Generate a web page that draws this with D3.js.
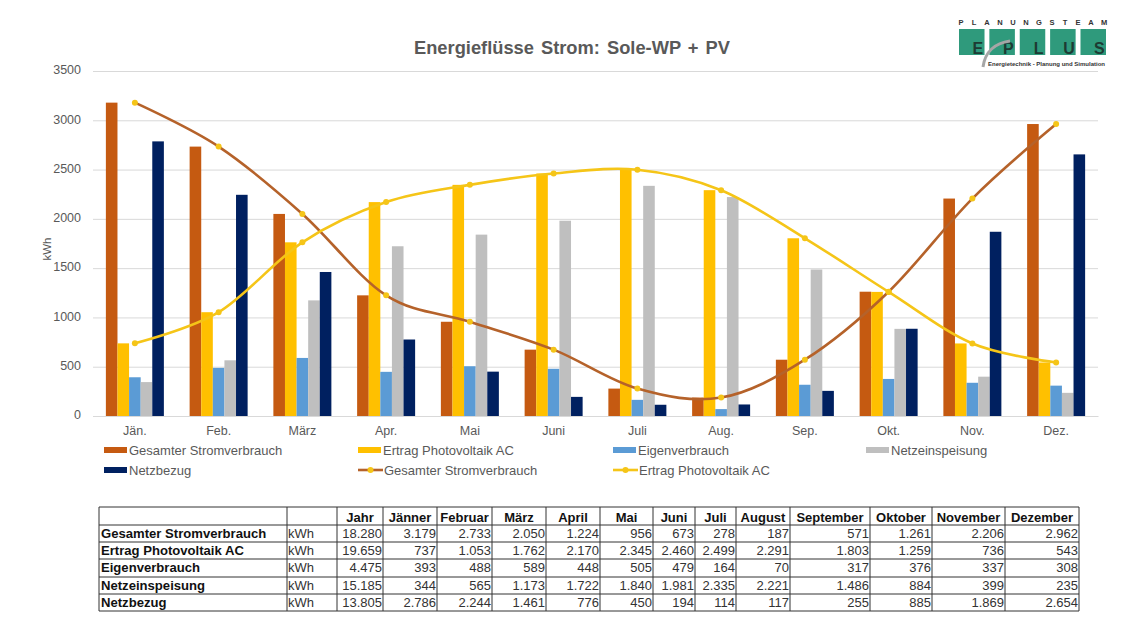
<!DOCTYPE html>
<html>
<head>
<meta charset="utf-8">
<script src="https://cdn.jsdelivr.net/npm/d3@7"></script>
<style>
  html, body { margin: 0; background: #fff; }
  text { font-family: "Liberation Sans", Arial, sans-serif; }
</style>
</head>
<body>
<div id="chart"></div>
<script>
// chart data, one list per series
var months = ["Jän.","Feb.","März","Apr.","Mai","Juni","Juli","Aug.","Sep.","Okt.","Nov.","Dez."];
var verbrauch = [3179,2733,2050,1224,956,673,278,187,571,1261,2206,2962];
var ertrag = [737,1053,1762,2170,2345,2460,2499,2291,1803,1259,736,543];
var eigen = [393,488,589,448,505,479,164,70,317,376,337,308];
var einspeisung = [344,565,1173,1722,1840,1981,2335,2221,1486,884,399,235];
var bezug = [2786,2244,1461,776,450,194,114,117,255,885,1869,2654];

var seriesNames = ["Gesamter Stromverbrauch","Ertrag Photovoltaik AC","Eigenverbrauch","Netzeinspeisung","Netzbezug"];
var seriesColors = ["#C55A11","#FFC000","#5B9BD5","#BFBFBF","#002060"];
var yTicks = [0,500,1000,1500,2000,2500,3000,3500];

// table
var tableHead = ["Jahr","Jänner","Februar","März","April","Mai","Juni","Juli","August","September","Oktober","November","Dezember"];
var yearTotals = [18280,19659,4475,15185,13805];
var tableUnit = "kWh";

// logo
var logoTop = "PLANUNGSTEAM".split("");
var logoLetters = ["E","P","L","U","S"];

var width=1136, height=639;
var svg=d3.select("#chart").append("svg")
  .attr("width",width).attr("height",height)
  .style("display","block");

var x=d3.scaleBand().domain(months).range([93,1098]);
var y=d3.scaleLinear().domain([0,3500]).range([416,71]);
var inner=d3.scaleBand().domain(d3.range(5)).range([0,58]);
var groupOffset=(x.bandwidth()-58)/2;

svg.append("text").text("Energieflüsse Strom: Sole-WP + PV")
  .attr("x",572).attr("y",54).attr("text-anchor","middle")
  .attr("font-size",18.3).attr("font-weight","bold").attr("fill","#595959")
  .attr("word-spacing",2);

// y axis and grid
var yAxis=svg.append("g").attr("transform","translate(93,0)")
  .call(d3.axisLeft(y).tickValues(yTicks).tickSize(-1005).tickPadding(12).tickFormat(d3.format("d")));
yAxis.select(".domain").remove();
yAxis.selectAll("line").attr("stroke","#D9D9D9");
yAxis.selectAll("text").attr("font-size",12.5).attr("fill","#595959").attr("dy","0.22em");

svg.append("text").text("kWh")
  .attr("transform","translate(51,249) rotate(-90)")
  .attr("text-anchor","middle").attr("font-size",11.5).attr("fill","#595959");

// x axis
var xAxis=svg.append("g").attr("transform","translate(0,416)")
  .call(d3.axisBottom(x).tickSize(0).tickPadding(10));
xAxis.select(".domain").attr("stroke","#D9D9D9");
xAxis.selectAll("text").attr("font-size",12.5).attr("fill","#595959");

// bars
var barSeries=[verbrauch,ertrag,eigen,einspeisung,bezug];
svg.append("g").selectAll("g").data(barSeries).join("g")
  .attr("fill",function(d,i) { return seriesColors[i]; })
  .attr("transform",function(d,i) { return "translate("+(groupOffset+inner(i))+",0)"; })
  .selectAll("rect").data(function(d) { return d; }).join("rect")
  .attr("x",function(d,i) { return x(months[i]); })
  .attr("y",function(d) { return y(d); })
  .attr("width",inner.bandwidth())
  .attr("height",function(d) { return y(0)-y(d); });

// smoothed lines, markers are yellow on both
var line=d3.line()
  .x(function(d,i) { return x(months[i])+x.bandwidth()/2; })
  .y(function(d) { return y(d); })
  .curve(d3.curveCardinal.tension(0));

function drawLine(values,color) {
  svg.append("path").datum(values)
    .attr("d",line).attr("fill","none")
    .attr("stroke",color).attr("stroke-width",2.6);
  svg.append("g").selectAll("circle").data(values).join("circle")
    .attr("cx",function(d,i) { return x(months[i])+x.bandwidth()/2; })
    .attr("cy",function(d) { return y(d); })
    .attr("r",3).attr("fill","#F5C518");
}
drawLine(verbrauch,"#B5622A");
drawLine(ertrag,"#F5C518");

// legend
var legendItems=[
  {n:0,type:"bar",lx:104,ly:450},
  {n:1,type:"bar",lx:358,ly:450},
  {n:2,type:"bar",lx:613,ly:450},
  {n:3,type:"bar",lx:866,ly:450},
  {n:4,type:"bar",lx:104,ly:470},
  {n:0,type:"line",lx:358,ly:470,c:"#B5622A"},
  {n:1,type:"line",lx:613,ly:470,c:"#F5C518"}
];
var legend=svg.append("g").selectAll("g").data(legendItems).join("g")
  .attr("transform",function(d) { return "translate("+d.lx+","+d.ly+")"; });
legend.filter(function(d) { return d.type=="bar"; }).append("rect")
  .attr("y",-3).attr("width",23).attr("height",6)
  .attr("fill",function(d) { return seriesColors[d.n]; });
legend.filter(function(d) { return d.type=="line"; }).append("line")
  .attr("x2",25).attr("stroke",function(d) { return d.c; }).attr("stroke-width",2.6);
legend.filter(function(d) { return d.type=="line"; }).append("circle")
  .attr("cx",12.5).attr("r",3).attr("fill","#F5C518");
legend.append("text").text(function(d) { return seriesNames[d.n]; })
  .attr("x",function(d) { return d.type=="bar" ? 25 : 26; }).attr("y",4.5)
  .attr("font-size",13).attr("fill","#595959");

// table
var colX=[99,287,337,383,437,492,546,600,653,695,736,790,870,932,1005,1079];
var rowY=[507,525,542,559,577,594,611];
var fmt=d3.formatLocale({decimal:",",thousands:".",grouping:[3],currency:["","€"]}).format(",d");
var table=svg.append("g");

table.selectAll("line.v").data(colX).join("line").attr("class","v")
  .attr("x1",function(d) { return d; }).attr("x2",function(d) { return d; })
  .attr("y1",rowY[0]).attr("y2",rowY[6]);
table.selectAll("line.h").data(rowY).join("line").attr("class","h")
  .attr("x1",colX[0]).attr("x2",colX[15])
  .attr("y1",function(d) { return d; }).attr("y2",function(d) { return d; });
table.selectAll("line").attr("stroke","#333").attr("stroke-width",1);

table.selectAll("text.head").data(tableHead).join("text").attr("class","head")
  .text(function(d) { return d; })
  .attr("x",function(d,i) { return (colX[i+2]+colX[i+3])/2; })
  .attr("y",rowY[0]+15).attr("text-anchor","middle")
  .attr("font-size",13).attr("font-weight","bold").attr("fill","#111");

seriesNames.forEach(function(name,r) {
  var base=rowY[r+1]+12.5;
  table.append("text").text(name).attr("x",colX[0]+2).attr("y",base)
    .attr("font-size",13.1).attr("font-weight","bold").attr("fill","#111");
  table.append("text").text(tableUnit).attr("x",colX[1]+1).attr("y",base)
    .attr("font-size",13).attr("fill","#333");
  var cells=[yearTotals[r]].concat(barSeries[r]);
  table.append("g").selectAll("text").data(cells).join("text")
    .text(function(d) { return fmt(d); })
    .attr("x",function(d,i) { return colX[i+3]-1; })
    .attr("y",base).attr("text-anchor","end")
    .attr("font-size",13).attr("fill","#333");
});

// logo
var logoX=d3.scaleBand().domain(logoLetters).range([959,1106]).paddingInner(0.16);
var logo=svg.append("g");
logo.selectAll("rect").data(logoLetters).join("rect")
  .attr("x",function(d) { return logoX(d); }).attr("y",29)
  .attr("width",logoX.bandwidth()).attr("height",26)
  .attr("fill","#2F9A7C");
logo.selectAll("text.big").data(logoLetters).join("text").attr("class","big")
  .text(function(d) { return d; })
  .attr("x",function(d) { return logoX(d)+logoX.bandwidth()*0.74; }).attr("y",54)
  .attr("text-anchor","middle").attr("font-size",16).attr("font-weight","bold").attr("fill","#1D3B33");
var topX=d3.scalePoint().domain(d3.range(logoTop.length)).range([961,1104]);
logo.selectAll("text.top").data(logoTop).join("text").attr("class","top")
  .text(function(d) { return d; })
  .attr("x",function(d,i) { return topX(i); }).attr("y",25)
  .attr("text-anchor","middle").attr("font-size",7.5).attr("font-weight","bold").attr("fill","#333");
logo.append("path").attr("d","M983,67 C985,52 995,43 1010,41")
  .attr("fill","none").attr("stroke","#A6A6A6").attr("stroke-width",3);
logo.append("text").text("Energietechnik - Planung und Simulation")
  .attr("x",988).attr("y",66).attr("font-size",6).attr("font-weight","bold").attr("fill","#333");
</script>
</body>
</html>
